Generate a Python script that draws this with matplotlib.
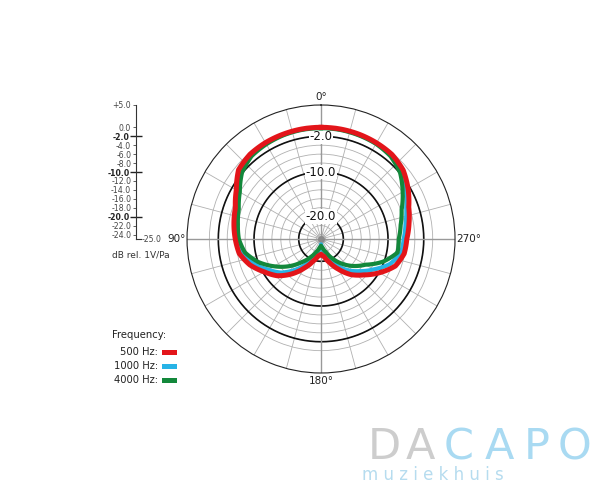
import numpy as np
import matplotlib
matplotlib.use("Agg")
import matplotlib.pyplot as plt

# polar response, dB rel. 1V/Pa, angle counter-clockwise from 0 deg (90 = left)
angles = list(range(0, 360, 10))
db_500 = [0.0, 0.0, -0.05, -0.1, -0.25, -0.9, -3.1, -4.6, -5.2, -5.8,
          -6.4, -8.05, -10.3, -12.2, -14.8, -17.5, -19.7, -21.1, -21.6,
          -21.0, -19.4, -17.2, -14.6, -12.5, -9.9, -7.3, -6.1, -5.8,
          -5.0, -4.1, -2.5, -1.0, -0.3, -0.15, -0.05, 0.0]
db_1000 = [-0.1, -0.1, -0.2, -0.3, -0.5, -1.3, -3.5, -5.0, -5.6, -6.2,
           -7.0, -8.9, -11.3, -13.3, -16.0, -18.6, -20.8, -22.5, -23.8,
           -22.5, -20.6, -18.4, -15.9, -13.8, -11.4, -8.6, -6.8, -6.5,
           -5.8, -4.7, -3.0, -1.5, -0.6, -0.3, -0.2, -0.1]
db_4000 = [-0.2, -0.2, -0.3, -0.5, -0.8, -1.9, -4.0, -5.4, -6.1, -6.6,
           -7.7, -10.0, -12.8, -15.5, -18.2, -20.3, -21.9, -23.0, -23.5,
           -23.0, -21.9, -20.0, -17.8, -15.6, -13.5, -10.2, -7.6, -7.6,
           -6.9, -5.8, -3.9, -1.9, -0.8, -0.4, -0.3, -0.2]

freq_labels = ["500 Hz:", "1000 Hz:", "4000 Hz:"]
freq_colors = ["#e3151a", "#27b3e6", "#13883b"]

r_min, r_max = -25.0, 5.0
grey_rings = list(range(-24, 1, 2))
bold_rings = [-2.0, -10.0, -20.0]
scale_ticks = [5.0, 0.0] + [float(v) for v in range(-2, -25, -2)]
angle_labels = ["0°", "90°", "180°", "270°"]
angle_label_pos = [0, 90, 180, 270]


def closed(vals):
    th = np.deg2rad(angles + [360])
    return th, np.array(vals + [vals[0]])


fig = plt.figure(figsize=(6, 5), dpi=100)
fig.patch.set_facecolor("white")

ax = fig.add_axes([0.3117, 0.254, 0.4467, 0.536], projection="polar")
ax.set_theta_zero_location("N")
ax.set_theta_direction(1)
ax.set_ylim(r_min, r_max)

ax.set_rgrids(grey_rings, labels=[""] * len(grey_rings))
ax.set_thetagrids(range(0, 360, 15), labels=[""] * 24)
ax.grid(True, color="#b0b0b0", lw=0.6)
ax.spines["polar"].set_color("#222222")
ax.spines["polar"].set_linewidth(0.8)

# angle labels just outside the outer ring
px_per_db = 134 / (r_max - r_min)
label_gap = [8, 10, 8, 14]
for a, lab, gap in zip(angle_label_pos, angle_labels, label_gap):
    ax.text(np.deg2rad(a), r_max + gap / px_per_db, lab, ha="center",
            va="center", fontsize=7.5, color="#222222", clip_on=False)

full = np.linspace(0, 2 * np.pi, 361)
for v in bold_rings:
    ax.plot(full, np.full_like(full, v), color="#111111", lw=1.2, zorder=2)
for a in angle_label_pos:
    th = np.deg2rad(a)
    ax.plot([th, th], [r_min, r_max], color="#999999", lw=1.0, zorder=2)
ax.plot(0, r_min, "o", ms=4, color="#8a8a8a", zorder=3)

for v in bold_rings:
    ax.text(0, v, "%.1f" % v, ha="center", va="center", fontsize=8.5,
            color="#111111", zorder=3,
            bbox=dict(facecolor="white", edgecolor="none", pad=0.6))

series = [db_500, db_1000, db_4000]
widths = [3.6, 3.0, 3.0]
order = [1, 2, 0]  # cyan, green, then red on top
for n, i in enumerate(order):
    th, r = closed(series[i])
    line, = ax.plot(th, r, color=freq_colors[i], lw=widths[i], zorder=4 + n,
                    solid_joinstyle="round")
    line.get_path()._interpolation_steps = 30

# radial scale on the left
sc = fig.add_axes([0.2267, 0.522, 0.008, 0.268])
sc.set_ylim(r_min, r_max)
sc.set_xlim(0, 1)
for s in ("top", "right"):
    sc.spines[s].set_visible(False)
for s in ("left", "bottom"):
    sc.spines[s].set_linewidth(0.8)
    sc.spines[s].set_color("#333333")
sc.set_xticks([])
sc.patch.set_alpha(0)
minor = [v for v in scale_ticks if v not in bold_rings]
sc.set_yticks(bold_rings)
sc.set_yticklabels(["%.1f" % v for v in bold_rings], fontweight="bold")
sc.set_yticks(minor, minor=True)
sc.set_yticklabels(["+%.1f" % v if v > 0 else "%.1f" % v for v in minor],
                   minor=True)
sc.tick_params(axis="y", which="major", direction="inout", length=9,
               width=1.0, labelsize=5.6, pad=0, colors="#222222")
sc.tick_params(axis="y", which="minor", direction="out", length=2.5,
               width=0.6, labelsize=5.6, pad=1, colors="#444444")
sc.text(1.15, r_min, "%.1f" % r_min, ha="left", va="center", fontsize=5.6,
        color="#444444", transform=sc.get_yaxis_transform())
fig.text(112 / 600, 1 - 255 / 500, "dB rel. 1V/Pa", fontsize=6.5,
         color="#333333", ha="left", va="center")

# legend
fig.text(112 / 600, 1 - 335 / 500, "Frequency:", fontsize=7.2,
         color="#222222", ha="left", va="center")
for k, (lab, col) in enumerate(zip(freq_labels, freq_colors)):
    y = 1 - (352 + 14 * k) / 500
    fig.text(158 / 600, y, lab, fontsize=7.2, color="#222222",
             ha="right", va="center")
    fig.patches.append(plt.Rectangle((162 / 600, y - 0.006), 15 / 600, 0.011,
                                     transform=fig.transFigure,
                                     facecolor=col, edgecolor="none"))

# watermark
logo = [("D", 384, "#cdcdcd"), ("A", 420, "#cdcdcd"), ("C", 459, "#a9daf2"),
        ("A", 499, "#a9daf2"), ("P", 537, "#a9daf2"), ("O", 575, "#a9daf2")]
for ch, x, col in logo:
    fig.text(x / 600, 1 - 459 / 500, ch, fontsize=31, color=col,
             ha="center", va="baseline")
fig.text(362 / 600, 1 - 475 / 500, "m u z i e k h u i s", fontsize=12,
         color="#b6dcef", ha="left", va="center")

fig.savefig("out.png", dpi=100, facecolor="white")
